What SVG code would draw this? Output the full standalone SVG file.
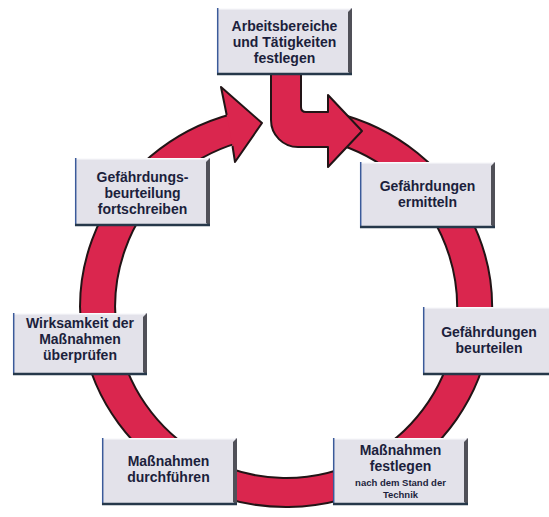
<svg xmlns="http://www.w3.org/2000/svg" width="549" height="517" viewBox="0 0 549 517">
<style>
.red{fill:#da264e;stroke:#221416;stroke-width:2;stroke-linejoin:round}
.face{fill:#e3e2ea}
.shade{fill:#505058}
.bot{stroke:#26384a;stroke-width:2.5;fill:none}
.lft{stroke:#3b5a9a;stroke-width:1.5;fill:none}
.top{stroke:#fafafc;stroke-width:1.5;fill:none}
text{font-family:"Liberation Sans",Arial,sans-serif;font-weight:bold;font-size:14px;fill:#1c1f3c;text-anchor:middle}
text.s{font-size:9.5px}
</style>
<rect width="549" height="517" fill="#ffffff"/>
<g id="connectors">
  <path class="red" d="M335 112.7 A206 200 0 1 1 232 114 L238 142.9 A171 171 0 1 0 340 144.7 Z"/>
  <path class="red" d="M226.7 115 L221 87 L262 123 L235 162 L232.5 146"/>
  <path class="red" d="M271 72 L301 72 L301 107 Q301 112 306 112 L328 112 L328 95 L362 131 L328 167 L328 147 L298 147 A27 27 0 0 1 271 120 Z"/>
</g>
<g id="n1">
  <rect class="face" x="217" y="8" width="135" height="67"/>
  <path class="top" d="M217 8.7 H350"/>
  <path class="lft" d="M217.7 8 V75"/>
  <path class="shade" d="M348 12 L352 8 L352 75 L348 72 Z"/>
  <path class="bot" d="M217 74 H352"/>
  <text x="284.5" y="31">Arbeitsbereiche</text>
  <text x="284.5" y="47">und Tätigkeiten</text>
  <text x="284.5" y="63">festlegen</text>
</g>
<g id="n2">
  <rect class="face" x="75" y="158" width="135" height="68"/>
  <path class="top" d="M75 158.7 H208"/>
  <path class="lft" d="M75.7 158 V226"/>
  <path class="shade" d="M206 162 L210 158 L210 226 L206 223 Z"/>
  <path class="bot" d="M75 225 H210"/>
  <text x="142.5" y="182">Gefährdungs-</text>
  <text x="142.5" y="198">beurteilung</text>
  <text x="142.5" y="214">fortschreiben</text>
</g>
<g id="n3">
  <rect class="face" x="360" y="162" width="135" height="66"/>
  <path class="top" d="M360 162.7 H493"/>
  <path class="lft" d="M360.7 162 V228"/>
  <path class="shade" d="M491 166 L495 162 L495 228 L491 225 Z"/>
  <path class="bot" d="M360 227 H495"/>
  <text x="427.5" y="191">Gefährdungen</text>
  <text x="427.5" y="207">ermitteln</text>
</g>
<g id="n4">
  <rect class="face" x="13" y="313" width="134" height="62"/>
  <path class="top" d="M13 313.7 H145"/>
  <path class="lft" d="M13.7 313 V375"/>
  <path class="shade" d="M143 317 L147 313 L147 375 L143 372 Z"/>
  <path class="bot" d="M13 374 H147"/>
  <text x="80" y="328">Wirksamkeit der</text>
  <text x="80" y="344">Maßnahmen</text>
  <text x="80" y="360">überprüfen</text>
</g>
<g id="n5">
  <rect class="face" x="423" y="307" width="126" height="68"/>
  <path class="top" d="M423 307.7 H549"/>
  <path class="lft" d="M423.7 307 V375"/>
  <path class="bot" d="M423 374 H549"/>
  <text x="489" y="337">Gefährdungen</text>
  <text x="489" y="353">beurteilen</text>
</g>
<g id="n6">
  <rect class="face" x="102" y="438" width="135" height="67"/>
  <path class="top" d="M102 438.7 H235"/>
  <path class="lft" d="M102.7 438 V505"/>
  <path class="shade" d="M233 442 L237 438 L237 505 L233 502 Z"/>
  <path class="bot" d="M102 504 H237"/>
  <text x="168.5" y="466">Maßnahmen</text>
  <text x="168.5" y="482">durchführen</text>
</g>
<g id="n7">
  <rect class="face" x="333" y="438" width="135" height="67"/>
  <path class="top" d="M333 438.7 H466"/>
  <path class="lft" d="M333.7 438 V505"/>
  <path class="shade" d="M464 442 L468 438 L468 505 L464 502 Z"/>
  <path class="bot" d="M333 504 H468"/>
  <text x="400.5" y="455">Maßnahmen</text>
  <text x="400.5" y="471">festlegen</text>
  <text class="s" x="400.5" y="486">nach dem Stand der</text>
  <text class="s" x="400.5" y="497.5">Technik</text>
</g>
</svg>
